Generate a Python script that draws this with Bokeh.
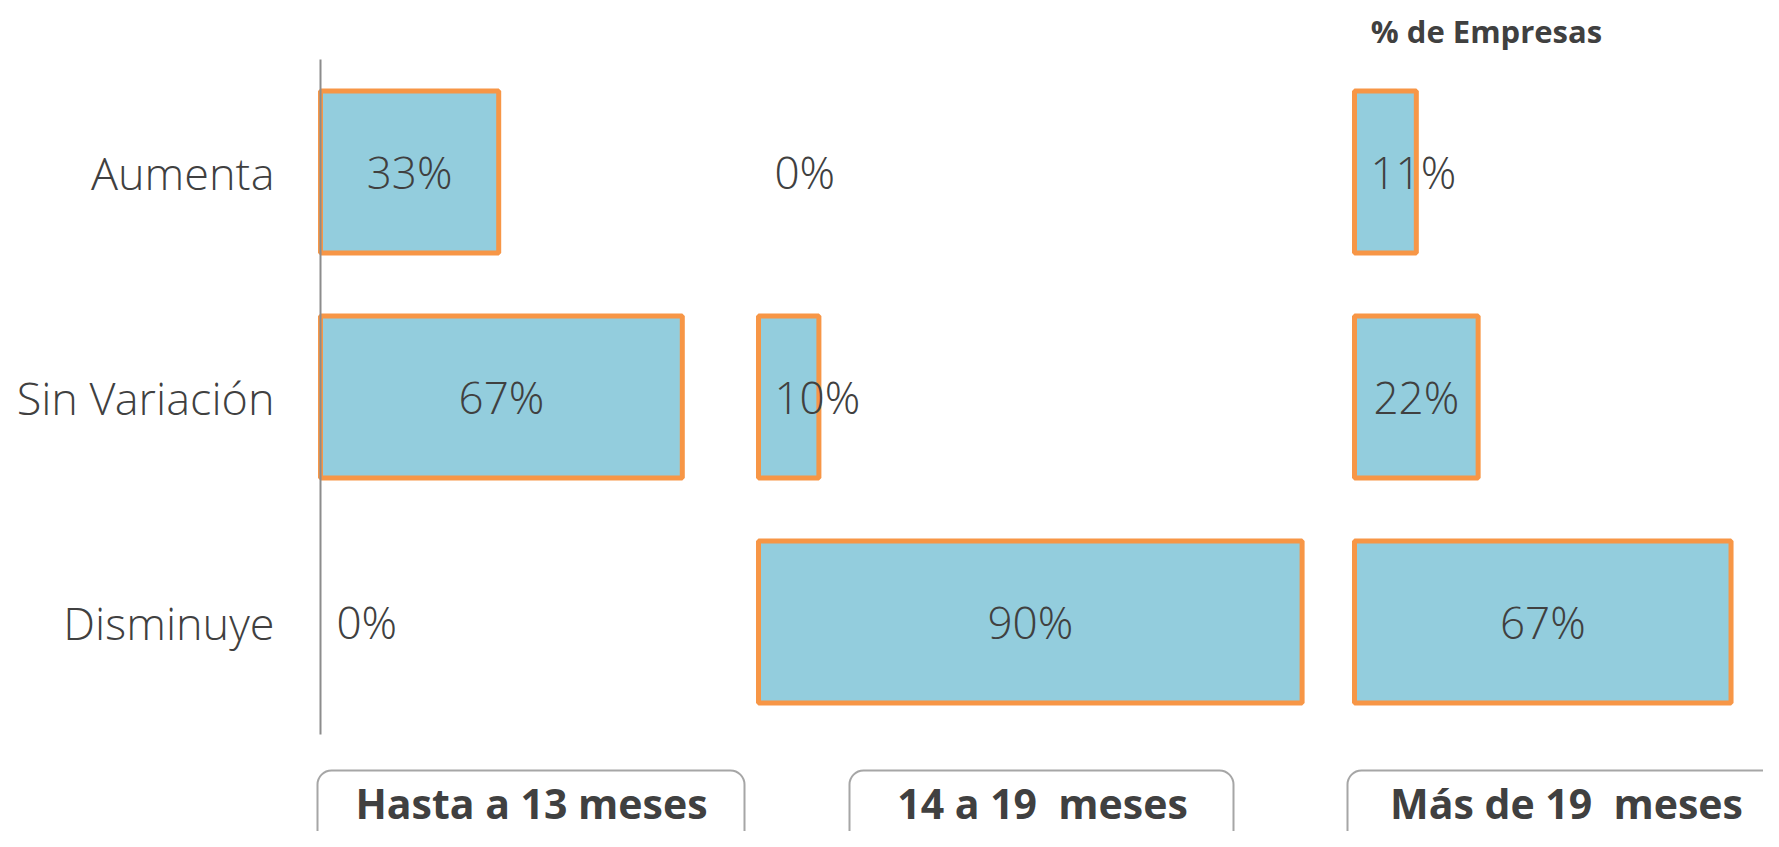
from bokeh.plotting import figure
from bokeh.models import Range1d, FixedTicker, ColumnDataSource
from bokeh.core.properties import value
from bokeh.embed import file_html
from bokeh.resources import INLINE

# ---------------- data ----------------
categories = ["Aumenta", "Sin Variación", "Disminuye"]
periods = ["Hasta a 13 meses", "14 a 19  meses", "Más de 19  meses"]
hasta_13_meses = [33, 67, 0]
de_14_a_19_meses = [0, 10, 90]
mas_de_19_meses = [11, 22, 67]
series = [hasta_13_meses, de_14_a_19_meses, mas_de_19_meses]
title_text = "% de Empresas"

# ---------------- layout / style ----------------
W, H = 1763, 831
ORIGIN = 0
ZERO_PX = [320, 758, 1354]        # x of the 0% position of each panel
PX_PER_PCT = [5.4, 6.04, 5.62]     # horizontal scale of each panel
BAND_PX = 225
FIRST_CENTER_PX = 171.5
FONT = "'Open Sans Light', 'Open Sans'"
BOLD_FONT = "Open Sans"
TXT = "#404040"
FILL = "#93CDDD"
EDGE = "#F79646"


def panel_range(z, s):
    return Range1d(start=-(z - ORIGIN) / s, end=(ORIGIN + W - z) / s)


ypos = [len(categories) - 1 - i for i in range(len(categories))]  # top row first
top_idx = len(categories) - 1
y_top = top_idx + (FIRST_CENTER_PX - ORIGIN) / BAND_PX
y_bot = top_idx - (ORIGIN + H - FIRST_CENTER_PX) / BAND_PX

p = figure(width=W, height=H, output_backend="svg", toolbar_location=None,
           x_range=panel_range(ZERO_PX[0], PX_PER_PCT[0]),
           y_range=Range1d(y_bot, y_top),
           x_axis_location=None, min_border=0, min_border_left=0,
           min_border_right=0, min_border_top=0, min_border_bottom=0,
           outline_line_color=None, background_fill_color="white")
p.grid.visible = False

p.extra_x_ranges = {
    "p1": panel_range(ZERO_PX[1], PX_PER_PCT[1]),
    "p2": panel_range(ZERO_PX[2], PX_PER_PCT[2]),
    "page": Range1d(ORIGIN, ORIGIN + W),
}
p.extra_y_ranges = {"page": Range1d(ORIGIN + H, ORIGIN)}
range_names = ["default", "p1", "p2"]

# y axis (category labels) fixed at 0% of the first panel
ax = p.yaxis[0]
ax.fixed_location = 0
ax.ticker = FixedTicker(ticks=ypos)
ax.major_label_overrides = {y: c for y, c in zip(ypos, categories)}
ax.bounds = (-0.5, top_idx + 0.5)
ax.axis_line_color = "#8C8C8C"
ax.axis_line_width = 2
ax.major_tick_line_color = None
ax.minor_tick_line_color = None
ax.major_label_standoff = 40
ax.major_label_text_font = FONT
ax.major_label_text_font_size = "45px"
ax.major_label_text_color = TXT

# bars and value labels
for vals, rn in zip(series, range_names):
    bars = [(y, v) for y, v in zip(ypos, vals) if v > 0]
    src = ColumnDataSource(dict(y=[b[0] for b in bars], right=[b[1] for b in bars]))
    p.hbar(y="y", left=0, right="right", height=0.72, source=src,
           fill_color=FILL, line_color=EDGE, line_width=5, x_range_name=rn)

    small = [v < 15 for v in vals]
    lsrc = ColumnDataSource(dict(
        x=[0 if s else v / 2 for v, s in zip(vals, small)],
        y=ypos,
        text=[f"{v}%" for v in vals],
        align=["left" if s else "center" for s in small],
        xoff=[16 if s else 0 for s in small],
    ))
    p.text(x="x", y="y", text="text", source=lsrc, x_range_name=rn,
           text_align="align", x_offset="xoff", text_baseline="middle",
           text_font=value(FONT), text_font_size="44px", text_color=TXT)

# title
p.text(x=[1486], y=[30], text=[title_text], x_range_name="page", y_range_name="page",
       text_align="center", text_baseline="middle", text_font=value(BOLD_FONT),
       text_font_style="bold", text_font_size="31px", text_color=TXT)

# period boxes under each panel
box_left = [317, 849, 1347]
box_right = [744, 1233, 1777]
box_cx = [531, 1042, 1566]
p.quad(left=box_left, right=box_right, top=770, bottom=880,
       x_range_name="page", y_range_name="page",
       fill_color="white", line_color="#A6A6A6", line_width=2, border_radius=14)
shown = [t.replace("  ", " \u00a0") for t in periods]  # keep the double space visible
p.text(x=box_cx, y=[830] * 3, text=shown, x_range_name="page", y_range_name="page",
       text_align="center", text_baseline="bottom", text_font=value(BOLD_FONT),
       text_font_style="bold", text_font_size="41px", text_color=TXT)

open("out.html", "w").write(file_html(p, INLINE))
